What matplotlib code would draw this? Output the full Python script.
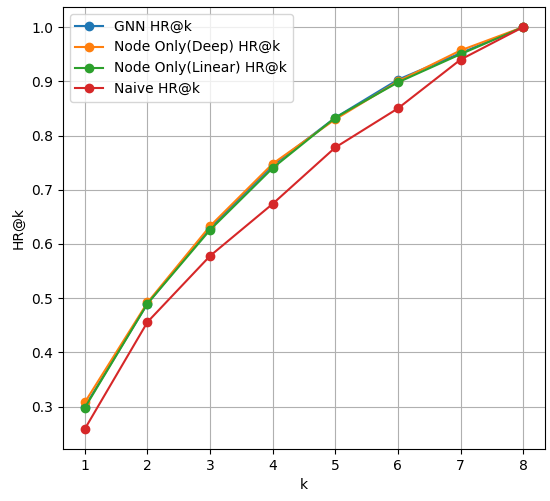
import matplotlib
matplotlib.use('Agg')
import matplotlib.pyplot as plt

k = [1, 2, 3, 4, 5, 6, 7, 8]

# HR@k for each model
gnn_hr = [0.300, 0.490, 0.630, 0.745, 0.833, 0.903, 0.952, 1.0]
deep_hr = [0.308, 0.492, 0.633, 0.748, 0.830, 0.900, 0.957, 1.0]
linear_hr = [0.298, 0.490, 0.626, 0.740, 0.833, 0.898, 0.950, 1.0]
naive_hr = [0.259, 0.456, 0.578, 0.674, 0.778, 0.850, 0.940, 1.0]

fig = plt.figure(figsize=(5.5, 5.01), dpi=100)
ax = fig.add_axes([0.1145, 0.104, 0.8765, 0.882])

ax.plot(k, gnn_hr, marker='o', label='GNN HR@k')
ax.plot(k, deep_hr, marker='o', label='Node Only(Deep) HR@k')
ax.plot(k, linear_hr, marker='o', label='Node Only(Linear) HR@k')
ax.plot(k, naive_hr, marker='o', label='Naive HR@k')

ax.set_xlabel('k')
ax.set_ylabel('HR@k')
ax.grid(True)
ax.legend(loc='upper left')

fig.savefig('out.png', dpi=100)
